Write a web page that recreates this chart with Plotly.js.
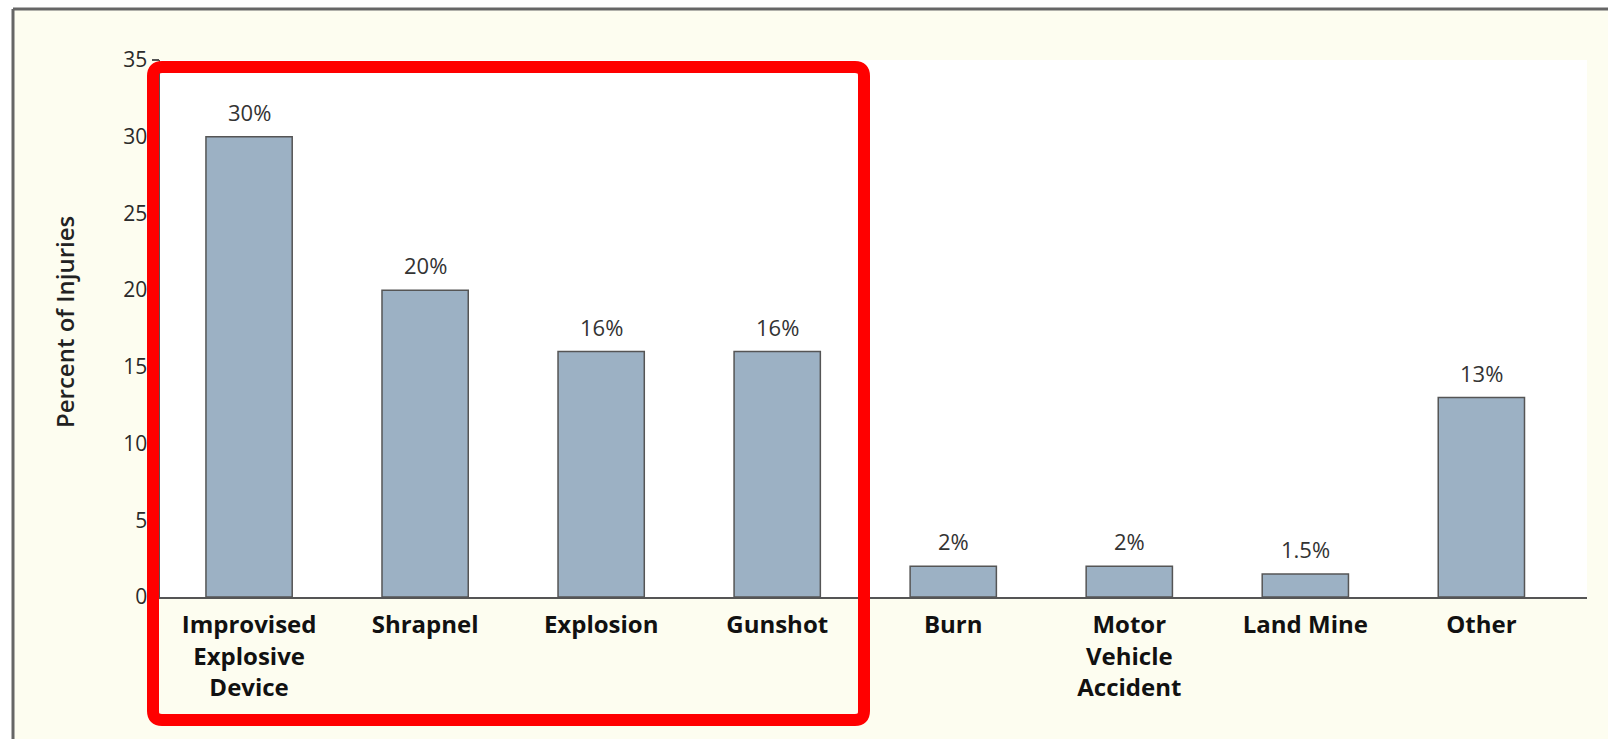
<!DOCTYPE html>
<html>
<head>
<meta charset="utf-8">
<script src="https://cdn.plot.ly/plotly-3.0.1.min.js"></script>
<style>
  html, body { margin: 0; padding: 0; background: #ffffff; }
  #chart { width: 1608px; height: 739px; }
</style>
</head>
<body>
<div id="chart"></div>
<script>
// ---- data ----
const categories = [
  "Improvised<br>Explosive<br>Device",
  "Shrapnel",
  "Explosion",
  "Gunshot",
  "Burn",
  "Motor<br>Vehicle<br>Accident",
  "Land Mine",
  "Other"
];
const percentInjuries = [30, 20, 16, 16, 2, 2, 1.5, 13];
const valueLabels = ["30%", "20%", "16%", "16%", "2%", "2%", "1.5%", "13%"];
const yTickValues = [0, 5, 10, 15, 20, 25, 30, 35];

// ---- layout geometry (pixels) ----
const W = 1608, H = 739;
const L = 160, R = 21, T = 60, B = 142;
const pw = W - L - R, ph = H - T - B;
const px = x => (x - L) / pw;          // pixel -> paper x
const py = y => (H - B - y) / ph;      // pixel -> paper y

const FONT = "Open Sans, DejaVu Sans, sans-serif";
const cream = "#fdfdf0";

const trace = {
  type: "bar",
  x: categories,
  y: percentInjuries,
  marker: { color: "#9cb1c4", line: { color: "#555555", width: 1.5 } },
  width: 0.49,
  hoverinfo: "skip"
};

const annotations = categories.map((c, i) => ({
  x: c, y: percentInjuries[i], xref: "x", yref: "y",
  text: valueLabels[i], showarrow: false,
  yanchor: "bottom", yshift: 8,
  font: { family: FONT, size: 22, color: "#333333" }
}));

annotations.push({
  xref: "paper", yref: "paper",
  x: px(64), y: py(322),
  text: "Percent of Injuries", showarrow: false, textangle: -90,
  xanchor: "center", yanchor: "middle",
  font: { family: FONT, size: 24, color: "#222222", weight: 600 }
});

// rounded red highlight rectangle
function roundedRect(x0, y0, x1, y1, r) {
  const rx = r / pw, ry = r / ph;
  const X0 = px(x0), X1 = px(x1), Y0 = py(y0), Y1 = py(y1); // Y0 top, Y1 bottom
  return `M ${X0 + rx},${Y0} L ${X1 - rx},${Y0} Q ${X1},${Y0} ${X1},${Y0 - ry} ` +
         `L ${X1},${Y1 + ry} Q ${X1},${Y1} ${X1 - rx},${Y1} ` +
         `L ${X0 + rx},${Y1} Q ${X0},${Y1} ${X0},${Y1 + ry} ` +
         `L ${X0},${Y0 - ry} Q ${X0},${Y0} ${X0 + rx},${Y0} Z`;
}

const shapes = [
  // white strips outside the frame
  { type: "rect", xref: "paper", yref: "paper", x0: px(0), x1: px(13), y0: py(H), y1: py(0),
    fillcolor: "#ffffff", line: { width: 0 }, layer: "above" },
  { type: "rect", xref: "paper", yref: "paper", x0: px(0), x1: px(W), y0: py(9), y1: py(0),
    fillcolor: "#ffffff", line: { width: 0 }, layer: "above" },
  // frame lines
  { type: "line", xref: "paper", yref: "paper", x0: px(13), x1: px(13), y0: py(9), y1: py(H),
    line: { color: "#666666", width: 3 }, layer: "above" },
  { type: "line", xref: "paper", yref: "paper", x0: px(13), x1: px(W), y0: py(9), y1: py(9),
    line: { color: "#666666", width: 3 }, layer: "above" },
  // red highlight
  { type: "path", xref: "paper", yref: "paper", path: roundedRect(153, 67, 864, 720, 9),
    line: { color: "#ff0000", width: 12 }, fillcolor: "rgba(0,0,0,0)", layer: "above" }
];

const layout = {
  width: W, height: H,
  margin: { l: L, r: R, t: T, b: B, pad: 0 },
  paper_bgcolor: cream,
  plot_bgcolor: "#ffffff",
  showlegend: false,
  bargap: 0.5,
  font: { family: FONT, color: "#222222" },
  xaxis: {
    type: "category",
    range: [-0.506, 7.6],
    showline: true, linecolor: "#555555", linewidth: 1.5,
    ticks: "", showgrid: false, zeroline: false,
    tickfont: { family: FONT, size: 24, color: "#111111", weight: 700 },
    ticklabelstandoff: 6,
    fixedrange: true
  },
  yaxis: {
    range: [0, 35],
    tickvals: yTickValues,
    showline: true, linecolor: "#555555", linewidth: 1.5,
    ticks: "outside", ticklen: 7, tickcolor: "#555555", tickwidth: 1.2,
    showgrid: false, zeroline: false,
    tickfont: { family: FONT, size: 21, color: "#2a2a2a" },
    fixedrange: true
  },
  annotations: annotations,
  shapes: shapes
};

Plotly.newPlot("chart", [trace], layout, { displayModeBar: false, staticPlot: true });
</script>
</body>
</html>
